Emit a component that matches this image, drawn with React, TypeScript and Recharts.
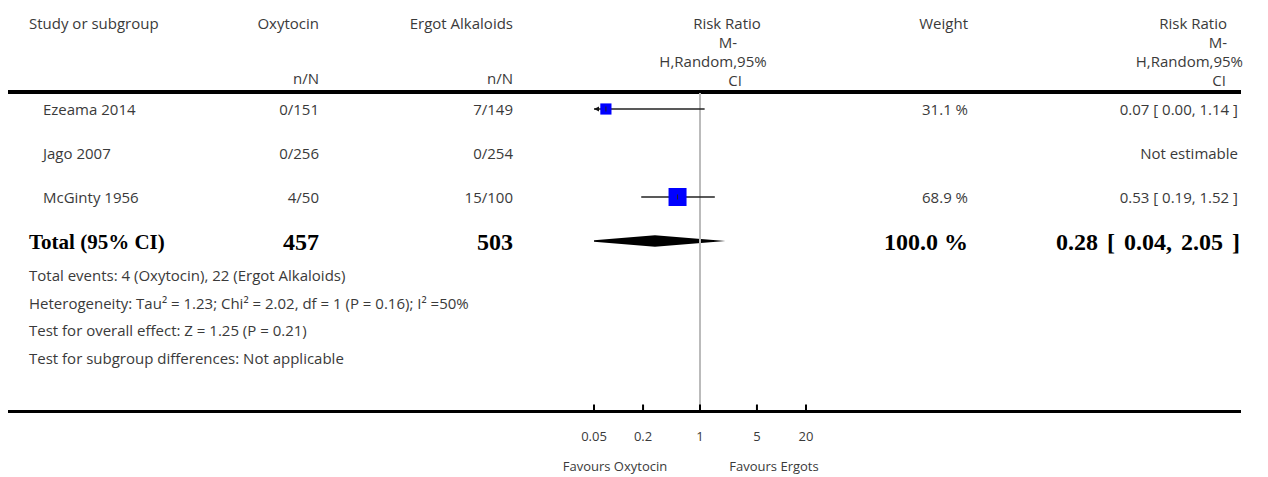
import React from 'react';
import { ComposedChart, XAxis, YAxis, Scatter, Area, ReferenceLine } from 'recharts';

// study rows
const studies = ['Ezeama 2014', 'Jago 2007', 'McGinty 1956'];
const oxytocinEvents = ['0/151', '0/256', '4/50'];
const ergotEvents = ['7/149', '0/254', '15/100'];
const weights = [31.1, null, 68.9];
const rrEst = [0.07, null, 0.53];
const rrLow = [0.0, null, 0.19];
const rrHigh = [1.14, null, 1.52];
const rrText = ['0.07 [ 0.00, 1.14 ]', 'Not estimable', '0.53 [ 0.19, 1.52 ]'];

// pooled row
const totalLabel = 'Total (95% CI)';
const totalN = ['457', '503'];
const totalWeightText = '100.0 %';
const totalRR = [0.04, 0.28, 2.05]; // low, estimate, high
const totalRRText = '0.28 [ 0.04, 2.05 ]';

const footnotes = [
  'Total events: 4 (Oxytocin), 22 (Ergot Alkaloids)',
  'Heterogeneity: Tau² = 1.23; Chi² = 2.02, df = 1 (P = 0.16); I² =50%',
  'Test for overall effect: Z = 1.25 (P = 0.21)',
  'Test for subgroup differences: Not applicable',
];

const xTicks = [0.05, 0.2, 1, 5, 20];
const xTickLabels = ['0.05', '0.2', '1', '5', '20'];
const favours = ['Favours Oxytocin', 'Favours Ergots'];

const X_MIN = 0.05;
const X_MAX = 20;

const W = 1252;
const H = 469;
const FONT = '"Open Sans", Lato, sans-serif';
const SERIF = '"Liberation Serif", "DejaVu Serif", serif';
const TEXT = '#3a3a3a';

// plot geometry
const CHART_LEFT = 545.5;
const SIDE = 40;
const PLOT_W = 212;
const CHART_TOP = 85;
const PLOT_H = 318;
const AXIS_H = 58;
const ROW_PX = 44;
const FIRST_ROW = 16;
const yDomain = [-FIRST_ROW / ROW_PX, (PLOT_H - FIRST_ROW) / ROW_PX];

const squares = rrEst
  .map((v, i) => (v == null ? null : { x: v, y: i, w: weights[i] }))
  .filter(Boolean) as { x: number; y: number; w: number }[];

const arrows = rrLow
  .map((v, i) => (v != null && v < X_MIN ? { x: X_MIN, y: i } : null))
  .filter(Boolean) as { x: number; y: number }[];

const totalRow = studies.length;
const HALF = 5.8 / ROW_PX;
const diamond = [
  { x: totalRR[0], r: [totalRow, totalRow] },
  { x: totalRR[1], r: [totalRow - HALF, totalRow + HALF] },
  { x: totalRR[2], r: [totalRow, totalRow] },
];

const Txt = ({ x, y, align = 'left', bold = false, size = 15, wordSpacing = 0, children }: any) => {
  const style: React.CSSProperties = {
    position: 'absolute',
    top: y,
    transform: 'translateY(-50%)',
    lineHeight: 1,
    whiteSpace: 'pre',
    fontFamily: bold ? SERIF : FONT,
    fontWeight: bold ? 700 : 400,
    fontSize: size,
    wordSpacing,
    color: bold ? '#000' : TEXT,
  };
  if (align === 'right') style.right = W - x;
  else if (align === 'center') {
    style.left = x;
    style.transform = 'translate(-50%, -50%)';
  } else style.left = x;
  return <div style={style}>{children}</div>;
};

const SquareShape = (props: any) => {
  const { cx, cy, payload } = props;
  const s = Math.pow(payload.w, 0.6) * 1.42;
  return (
    <g>
      <rect x={cx - s / 2} y={cy - s / 2} width={s} height={s} fill="#0000ff" />
      <line x1={cx} x2={cx} y1={cy - 2.5} y2={cy + 2.5} stroke="#222" strokeWidth={1} />
    </g>
  );
};

const ArrowShape = (props: any) => {
  const { cx, cy } = props;
  return <polygon points={`${cx},${cy} ${cx + 5},${cy - 2.5} ${cx + 5},${cy + 2.5}`} fill="#111" />;
};

const AxisTick = (props: any) => {
  const { x, y, payload } = props;
  const idx = xTicks.indexOf(payload.value);
  return (
    <g>
      <line x1={x} x2={x} y1={y - 6.5} y2={y} stroke="#000" strokeWidth={2} />
      <text x={x} y={y + 30} textAnchor="middle" fontSize={13} fontFamily={FONT} fill={TEXT}>
        {xTickLabels[idx]}
      </text>
    </g>
  );
};

export default function App() {
  return (
    <div style={{ position: 'relative', width: W, height: H, background: '#fff' }}>
      {/* header */}
      <Txt x={21} y={15}>Study or subgroup</Txt>
      <Txt x={311} y={15} align="right">Oxytocin</Txt>
      <Txt x={505} y={15} align="right">Ergot Alkaloids</Txt>
      <Txt x={311} y={70} align="right">n/N</Txt>
      <Txt x={505} y={70} align="right">n/N</Txt>
      <Txt x={719} y={15} align="center">Risk Ratio</Txt>
      <Txt x={720} y={33.5} align="center">M-</Txt>
      <Txt x={705} y={53} align="center">H,Random,95%</Txt>
      <Txt x={727} y={72} align="center">CI</Txt>
      <Txt x={960} y={15} align="right">Weight</Txt>
      <Txt x={1219} y={15} align="right">Risk Ratio</Txt>
      <Txt x={1219} y={33.5} align="right">M-</Txt>
      <Txt x={1235} y={53} align="right">H,Random,95%</Txt>
      <Txt x={1218} y={72} align="right">CI</Txt>

      <div style={{ position: 'absolute', left: 0, top: 82, width: 1233, height: 4, background: '#000' }} />

      {/* study rows */}
      {studies.map((s, i) => {
        const y = 101 + i * ROW_PX;
        return (
          <React.Fragment key={s}>
            <Txt x={35} y={y}>{s}</Txt>
            <Txt x={311} y={y} align="right">{oxytocinEvents[i]}</Txt>
            <Txt x={505} y={y} align="right">{ergotEvents[i]}</Txt>
            {weights[i] != null && <Txt x={960} y={y} align="right">{`${weights[i]} %`}</Txt>}
            <Txt x={1230} y={y} align="right">{rrText[i]}</Txt>
          </React.Fragment>
        );
      })}

      {/* total row */}
      <Txt x={21} y={234} bold size={21}>{totalLabel}</Txt>
      <Txt x={311} y={234} align="right" bold size={24}>{totalN[0]}</Txt>
      <Txt x={505} y={234} align="right" bold size={24}>{totalN[1]}</Txt>
      <Txt x={960} y={234} align="right" bold size={24}>{totalWeightText}</Txt>
      <Txt x={1232} y={234} align="right" bold size={24} wordSpacing={3}>{totalRRText}</Txt>

      {footnotes.map((f, i) => (
        <Txt key={f} x={21} y={267 + i * 27.7}>{f}</Txt>
      ))}

      <div style={{ position: 'absolute', left: 0, top: 402, width: 1233, height: 3, background: '#000' }} />

      <Txt x={607} y={458} align="center" size={13}>{favours[0]}</Txt>
      <Txt x={766} y={458} align="center" size={13}>{favours[1]}</Txt>

      <div style={{ position: 'absolute', left: CHART_LEFT, top: CHART_TOP }}>
        <ComposedChart
          width={PLOT_W + SIDE * 2}
          height={PLOT_H + AXIS_H}
          data={diamond}
          margin={{ top: 0, right: SIDE, bottom: 0, left: SIDE }}
        >
          <XAxis
            dataKey="x"
            type="number"
            scale="log"
            domain={[X_MIN, X_MAX]}
            allowDataOverflow
            ticks={xTicks}
            interval={0}
            axisLine={false}
            tickLine={false}
            tickSize={0}
            tickMargin={0}
            height={AXIS_H}
            tick={<AxisTick />}
          />
          <YAxis dataKey="y" type="number" domain={yDomain} reversed hide allowDataOverflow />
          <ReferenceLine x={1} stroke="#bbbbbb" strokeWidth={2} ifOverflow="visible" />
          {rrEst.map((v, i) =>
            v == null ? null : (
              <ReferenceLine
                key={`ci-${i}`}
                segment={[
                  { x: Math.max(rrLow[i] as number, X_MIN), y: i },
                  { x: Math.min(rrHigh[i] as number, X_MAX), y: i },
                ]}
                stroke="#222"
                strokeWidth={1.3}
                ifOverflow="visible"
              />
            )
          )}
          <Area
            dataKey="r"
            type="linear"
            fill="#000"
            fillOpacity={1}
            stroke="none"
            dot={false}
            activeDot={false}
            isAnimationActive={false}
          />
          <Scatter data={squares} shape={<SquareShape />} isAnimationActive={false} />
          <Scatter data={arrows} shape={<ArrowShape />} isAnimationActive={false} />
        </ComposedChart>
      </div>
    </div>
  );
}
